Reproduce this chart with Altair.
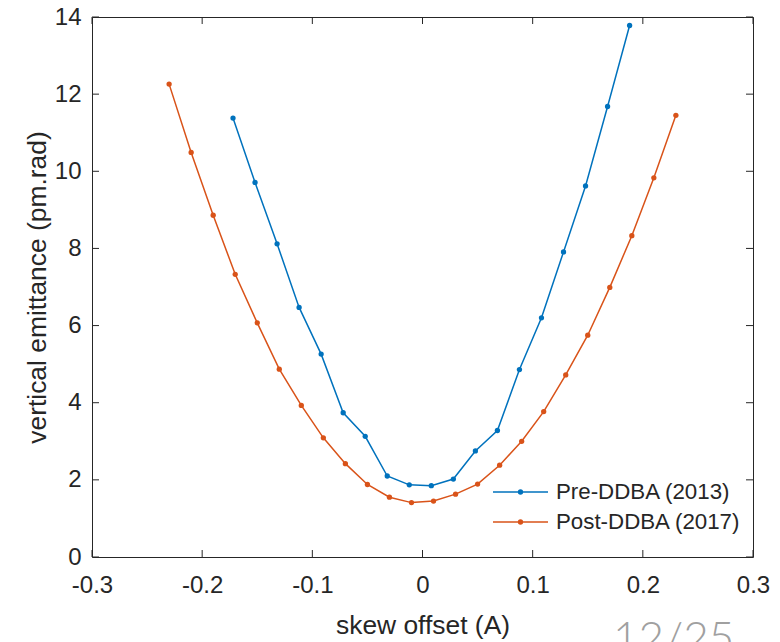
import altair as alt
import pandas as pd

# ---- data ----
pre_x = [-0.172, -0.152, -0.132, -0.112, -0.092, -0.072, -0.052, -0.032, -0.012, 0.008,
         0.028, 0.048, 0.068, 0.088, 0.108, 0.128, 0.148, 0.168, 0.188]
pre_y = [11.38, 9.71, 8.12, 6.47, 5.26, 3.74, 3.13, 2.10, 1.87, 1.85,
         2.02, 2.75, 3.28, 4.86, 6.20, 7.91, 9.62, 11.68, 13.78]

post_x = [-0.23, -0.21, -0.19, -0.17, -0.15, -0.13, -0.11, -0.09, -0.07, -0.05, -0.03, -0.01,
          0.01, 0.03, 0.05, 0.07, 0.09, 0.11, 0.13, 0.15, 0.17, 0.19, 0.21, 0.23]
post_y = [12.26, 10.49, 8.86, 7.33, 6.07, 4.87, 3.93, 3.09, 2.42, 1.88, 1.55, 1.41,
          1.45, 1.63, 1.89, 2.38, 3.00, 3.77, 4.72, 5.75, 6.99, 8.33, 9.83, 11.45]

series_names = ["Pre-DDBA (2013)", "Post-DDBA (2017)"]
series_colors = ["#0072BD", "#D95319"]

x_ticks = [-0.3, -0.2, -0.1, 0.0, 0.1, 0.2, 0.3]
y_ticks = [0, 2, 4, 6, 8, 10, 12, 14]

x_title = "skew offset (A)"
y_title = "vertical emittance (pm.rad)"
page_label = "12/25"

# ---- layout ----
W, H = 661, 540
FONT = "Liberation Sans"
INK = "#262626"
TICK = 7
TICK_FS = 24
TITLE_FS = 26.4
LEG_FS = 22.3

df = pd.concat([
    pd.DataFrame({"x": pre_x, "y": pre_y, "series": series_names[0]}),
    pd.DataFrame({"x": post_x, "y": post_y, "series": series_names[1]}),
], ignore_index=True)

xscale = alt.Scale(domain=[-0.3, 0.3], nice=False, zero=False)
yscale = alt.Scale(domain=[0, 14], nice=False, zero=False)
cscale = alt.Scale(domain=series_names, range=series_colors)

x_axis = alt.Axis(
    values=x_ticks, labelExpr="replace(format(datum.value, '.1~f'), '\u2212', '-')",
    grid=False, ticks=False, domain=False, labelFlush=False, labelOverlap=False,
    labelFont=FONT, labelFontSize=TICK_FS,
    labelColor=INK, labelPadding=16, title=x_title, titleFont=FONT,
    titleFontSize=TITLE_FS, titleFontWeight="normal", titleColor=INK,
    titleX=W / 2, titleY=68, titleBaseline="middle", titleAlign="center",
)
y_axis = alt.Axis(
    values=y_ticks, format="d", grid=False, ticks=False, domain=False,
    labelFlush=False, labelOverlap=False,
    labelFont=FONT, labelFontSize=TICK_FS, labelColor=INK, labelPadding=11,
    title=y_title, titleFont=FONT, titleFontSize=TITLE_FS, titleFontWeight="normal",
    titleColor=INK, titleX=-55, titleY=H / 2, titleBaseline="middle",
    titleAlign="center", titleAngle=270,
)

lines = alt.Chart(df).mark_line(
    strokeWidth=1.5,
    point=alt.OverlayMarkDef(filled=True, size=28, opacity=1),
).encode(
    x=alt.X("x:Q", scale=xscale, axis=x_axis, title=x_title),
    y=alt.Y("y:Q", scale=yscale, axis=y_axis, title=y_title),
    color=alt.Color("series:N", scale=cscale, legend=None),
)

xt = pd.DataFrame({"v": x_ticks})
yt = pd.DataFrame({"v": y_ticks})
tick_bottom = alt.Chart(xt).mark_rule(color=INK, strokeWidth=1).encode(
    x=alt.X("v:Q", scale=xscale, axis=x_axis, title=x_title), y=alt.value(H), y2=alt.value(H - TICK))
tick_top = alt.Chart(xt).mark_rule(color=INK, strokeWidth=1).encode(
    x=alt.X("v:Q", scale=xscale, axis=x_axis, title=x_title), y=alt.value(0), y2=alt.value(TICK))
tick_left = alt.Chart(yt).mark_rule(color=INK, strokeWidth=1).encode(
    y=alt.Y("v:Q", scale=yscale, axis=y_axis, title=y_title), x=alt.value(0), x2=alt.value(TICK))
tick_right = alt.Chart(yt).mark_rule(color=INK, strokeWidth=1).encode(
    y=alt.Y("v:Q", scale=yscale, axis=y_axis, title=y_title), x=alt.value(W), x2=alt.value(W - TICK))

layers = [lines, tick_bottom, tick_top, tick_left, tick_right]

# manual legend (MATLAB style: line with marker, no box)
leg_rows = [475, 505]
for name, col, ry in zip(series_names, series_colors, leg_rows):
    ldf = pd.DataFrame({"t": [name]})
    layers.append(alt.Chart(ldf).mark_rule(color=col, strokeWidth=1.5).encode(
        x=alt.value(401), x2=alt.value(456), y=alt.value(ry)))
    layers.append(alt.Chart(ldf).mark_point(filled=True, color=col, size=28, opacity=1).encode(
        x=alt.value(428.5), y=alt.value(ry)))
    layers.append(alt.Chart(ldf).mark_text(align="left", baseline="middle", font=FONT,
                                           fontSize=LEG_FS, color=INK).encode(
        x=alt.value(464), y=alt.value(ry), text="t:N"))

page = alt.Chart(pd.DataFrame({"t": [page_label]})).mark_text(
    align="left", baseline="top", font="Lato", fontSize=44, color="#a0a0a0",
    fontWeight=300).encode(x=alt.value(521), y=alt.value(601), text="t:N")
layers.append(page)

chart = alt.layer(*layers).properties(
    width=W, height=H,
    autosize=alt.AutoSizeParams(type="none"),
    padding={"left": 92, "top": 17, "right": 27, "bottom": 85},
    background="white",
).configure_view(stroke=INK, strokeWidth=1)

chart.save("out.html", embed_options={"renderer": "svg", "actions": False})
